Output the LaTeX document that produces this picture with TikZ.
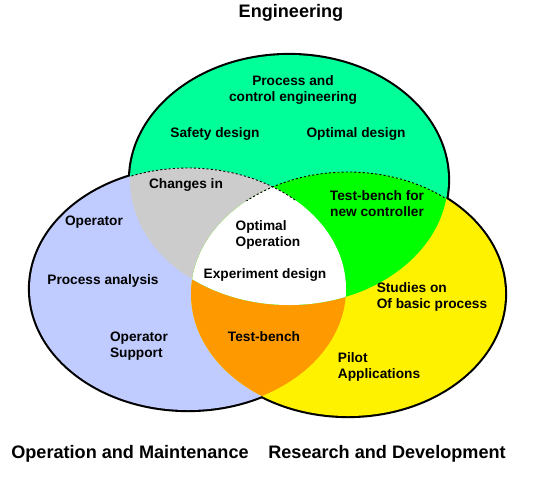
\documentclass[tikz,border=0pt]{standalone}
\usepackage{fontspec}
\setmainfont{Liberation Sans}
\usepackage{xcolor}
\usepackage{tikz}
\usetikzlibrary{positioning}
\definecolor{enggreen}{RGB}{0,255,153}
\definecolor{opblue}{RGB}{192,204,255}
\definecolor{overlapgray}{RGB}{204,204,204}
\definecolor{overlaporange}{RGB}{255,153,0}
\tikzset{
    outline/.style={draw=black, line width=2.4pt},
    innerline/.style={draw=black, line width=0.5pt, dash pattern=on 1.2pt off 1.2pt},
    arealabel/.style={font=\bfseries\fontsize{7.8}{9}\selectfont, inner sep=0pt, align=center, yshift=-1pt},
    leftlabel/.style={arealabel, align=left},
    setlabel/.style={font=\bfseries\fontsize{10.3}{12}\selectfont, inner sep=0pt, yshift=-1.2pt}
}

\begin{document}
\begin{tikzpicture}[x=0.02cm, y=-0.02cm]
    \useasboundingbox (0,0) rectangle (540,478);
    \coordinate (eng) at (289,180);
    \coordinate (ops) at (188,289);
    \coordinate (rnd) at (348,294);

    \path[outline] (eng) ellipse [x radius=159, y radius=125];
    \path[outline] (ops) ellipse [x radius=158, y radius=121];
    \path[outline] (rnd) ellipse [x radius=157, y radius=122];

    \fill[enggreen] (eng) ellipse [x radius=159, y radius=125];
    \fill[opblue] (ops) ellipse [x radius=158, y radius=121];
    \fill[yellow] (rnd) ellipse [x radius=157, y radius=122];
    \begin{scope}
        \clip (ops) ellipse [x radius=158, y radius=121];
        \fill[overlapgray] (eng) ellipse [x radius=159, y radius=125];
        \fill[overlaporange] (rnd) ellipse [x radius=157, y radius=122];
    \end{scope}
    \begin{scope}
        \clip (rnd) ellipse [x radius=157, y radius=122];
        \fill[green] (eng) ellipse [x radius=159, y radius=125];
        \clip (ops) ellipse [x radius=158, y radius=121];
        \fill[white] (eng) ellipse [x radius=159, y radius=125];
    \end{scope}
    \begin{scope}
        \clip (eng) ellipse [x radius=159, y radius=125];
        \clip (0,0) rectangle (540,200);
        \path[innerline] (ops) ellipse [x radius=158, y radius=121];
        \path[innerline] (rnd) ellipse [x radius=157, y radius=122];
    \end{scope}

    \node (engineering) [setlabel] at (291,11) {Engineering};
    \node (operation) [setlabel] at (130,452) {Operation and Maintenance};
    \node (research) [setlabel] at (387,452) {Research and Development};

    \node (procctrl) [arealabel] at (293,88) {Process and\\control engineering};
    \node (safety) [arealabel] at (215,132) {Safety design};
    \node (optdesign) [arealabel] at (356,132) {Optimal design};
    \node (changes) [arealabel] at (186,183) {Changes in};
    \node (operator) [arealabel] at (94,220) {Operator};
    \node (procanalysis) [arealabel] at (103,279) {Process analysis};
    \node (opsupport) [leftlabel] at (139,344) {Operator\\Support};
    \node (optop) [leftlabel] at (268,233) {Optimal\\Operation};
    \node (experiment) [arealabel] at (265,273) {Experiment design};
    \node (newctrl) [arealabel] at (377,202) {Test-bench for\\new controller};
    \node (studies) [leftlabel] at (432,295) {Studies on\\Of basic process};
    \node (testbench) [arealabel] at (264,335) {Test-bench};
    \node (pilot) [leftlabel] at (379,365) {Pilot\\Applications};
\end{tikzpicture}
\end{document}
